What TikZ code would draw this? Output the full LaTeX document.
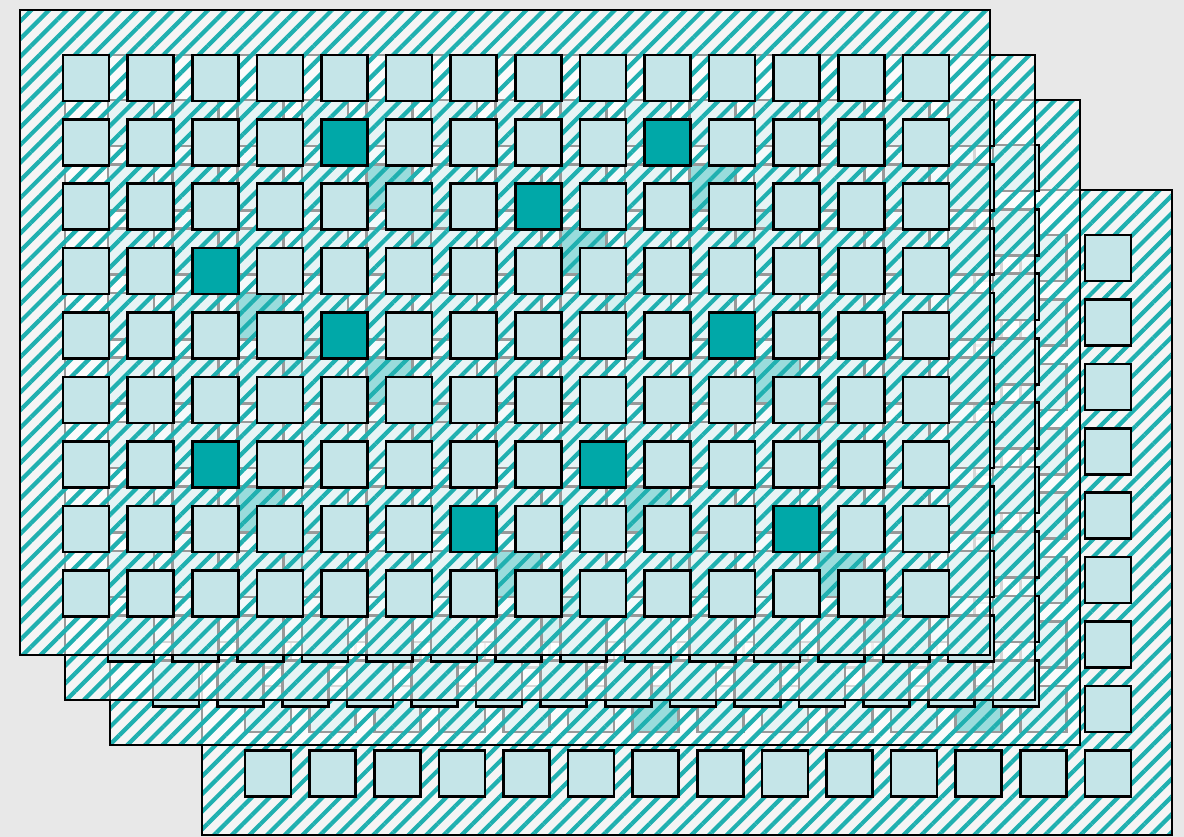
\documentclass[tikz,border=0pt]{standalone}
\usetikzlibrary{patterns.meta}
\definecolor{bggray}{RGB}{232,232,232}
\definecolor{stripeteal}{RGB}{32,176,176}
\definecolor{cellfill}{RGB}{197,229,232}
\definecolor{cellteal}{RGB}{0,168,168}

% one hatched layer with its 14 x 9 cells
\newcommand{\waferlayer}[2]{%
  \begin{scope}[shift={(#1,#2)}]
    \fill[white,opacity=0.6] (0,0) rectangle (970,645);
    \fill[stripes] (0,0) rectangle (970,645);
    \foreach \col in {0,...,13}
      \foreach \row in {0,...,8}
        \draw[cell] ({43+64.6*\col},{45+64.4*\row}) rectangle ++(46,46);
    \foreach \col/\row in {4/1,9/1,7/2,2/3,4/4,10/4,2/6,8/6,6/7,11/7}
      \draw[cell,fill=cellteal] ({43+64.6*\col},{45+64.4*\row}) rectangle ++(46,46);
    \draw[frame] (0,0) rectangle (970,645);
  \end{scope}}

\begin{document}
\begin{tikzpicture}[
  x=1pt, y=-1pt,
  stripes/.style={pattern={Lines[angle=45,distance=12.5pt,line width=4.2pt]},
    pattern color=stripeteal},
  cell/.style={draw=black,fill=cellfill,line width=2.6pt},
  frame/.style={draw=black,line width=2pt}
]
  \useasboundingbox (0,0) rectangle (1184,837);
  \fill[bggray] (0,0) rectangle (1184,837);

  % back to front
  \waferlayer{202}{190}
  \waferlayer{110}{100}
  \waferlayer{65}{55}
  \waferlayer{20}{10}
\end{tikzpicture}
\end{document}
